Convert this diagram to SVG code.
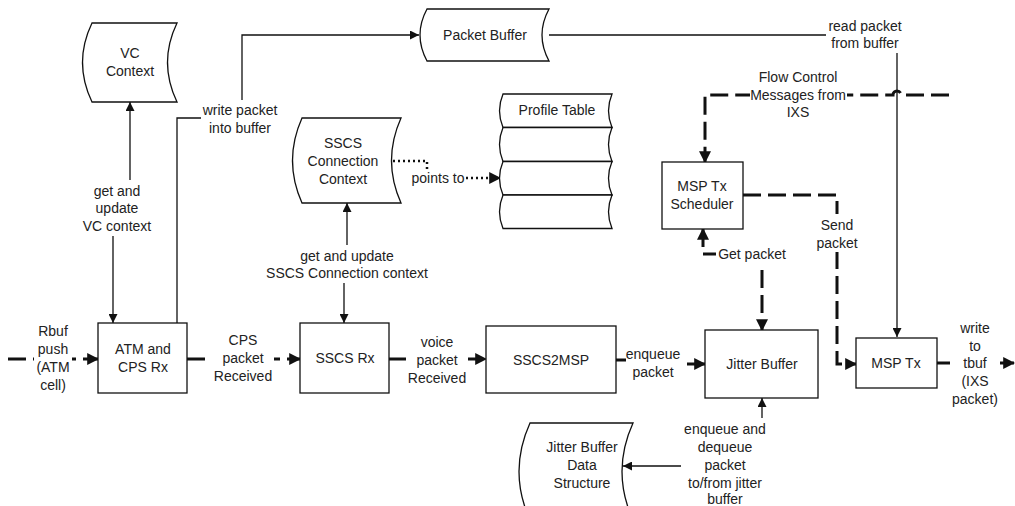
<svg xmlns="http://www.w3.org/2000/svg" width="1015" height="506" viewBox="0 0 1015 506">
  <style>
    .box { fill: #fff; stroke: #111; stroke-width: 1.3; }
    .t { font-family: "Liberation Sans", Arial, sans-serif; font-size: 14px; fill: #222; text-anchor: middle; }
    .thin { fill: none; stroke: #111; stroke-width: 1.3; }
    .thick { fill: none; stroke: #111; stroke-width: 3; stroke-dasharray: 18 7; }
    .dot { fill: none; stroke: #111; stroke-width: 2.5; stroke-dasharray: 2 3; }
    .bg { fill: #fff; }
  </style>
  <defs>
    <marker id="a" viewBox="0 0 10 10" refX="10" refY="5" markerWidth="9" markerHeight="9" markerUnits="userSpaceOnUse" orient="auto-start-reverse">
      <path d="M0,0 L10,5 L0,10 z" fill="#111"/>
    </marker>
    <marker id="A" viewBox="0 0 10 10" refX="9" refY="5" markerWidth="12" markerHeight="12" markerUnits="userSpaceOnUse" orient="auto-start-reverse">
      <path d="M0,0 L10,5 L0,10 z" fill="#111"/>
    </marker>
  </defs>
  <rect width="1015" height="506" fill="#fff"/>

  <!-- connectors -->
  <g id="connectors">
    <!-- thin solid -->
    <path class="thin" d="M113,323 V200 H130 V102" marker-start="url(#a)" marker-end="url(#a)"/>
    <path class="thin" d="M177,323 V118 H242 V35 H419" marker-end="url(#a)"/>
    <path class="thin" d="M549,35 H897 V337" marker-end="url(#a)"/>
    <path class="thin" d="M344,323 V265 H347 V203" marker-start="url(#a)" marker-end="url(#a)"/>
    <path class="thin" d="M762,398 V466 H623" marker-start="url(#a)" marker-end="url(#a)"/>
    <!-- dotted pointer -->
    <path class="dot" d="M393,161 H427 V178 H500" marker-end="url(#A)"/>
    <!-- thick dashed data path -->
    <path class="thick" d="M8,359 H98" marker-end="url(#A)"/>
    <path class="thick" d="M187,359 H300" marker-end="url(#A)"/>
    <path class="thick" d="M389,359 H486" marker-end="url(#A)"/>
    <path class="thick" d="M616,360 H658 V364 H705" marker-end="url(#A)"/>
    <path class="thick" d="M703,229 V254 H762 V330" marker-start="url(#A)" marker-end="url(#A)"/>
    <path class="thick" d="M743,195 H837 V364 H856" marker-end="url(#A)"/>
    <path class="thick" d="M949,95 H901 A4,4 0 0 0 893,95 H705 V162" marker-end="url(#A)"/>
    <path class="thick" d="M937,363 H1014" marker-end="url(#A)"/>
  </g>

  <!-- connector labels -->
  <g id="labels">
    <rect class="bg" x="201" y="100" width="79" height="37"/>
    <text class="t"><tspan x="240" y="115">write packet</tspan><tspan x="240" y="133">into buffer</tspan></text>

    <rect class="bg" x="81" y="180" width="72" height="56"/>
    <text class="t"><tspan x="117" y="196">get and</tspan><tspan x="117" y="213">update</tspan><tspan x="117" y="231">VC context</tspan></text>

    <rect class="bg" x="266" y="245" width="162" height="38"/>
    <text class="t"><tspan x="347" y="261">get and update</tspan><tspan x="347" y="278">SSCS Connection context</tspan></text>

    <rect class="bg" x="410" y="170" width="56" height="17"/>
    <text class="t" x="438" y="183">points to</text>

    <rect class="bg" x="826" y="16" width="78" height="37"/>
    <text class="t"><tspan x="865" y="31">read packet</tspan><tspan x="865" y="48">from buffer</tspan></text>

    <rect class="bg" x="750" y="67" width="97" height="54"/>
    <text class="t"><tspan x="798" y="82">Flow Control</tspan><tspan x="798" y="100">Messages from</tspan><tspan x="798" y="117">IXS</tspan></text>

    <rect class="bg" x="815" y="214" width="44" height="38"/>
    <text class="t"><tspan x="837" y="230">Send</tspan><tspan x="837" y="248">packet</tspan></text>

    <rect class="bg" x="716" y="245" width="72" height="18"/>
    <text class="t" x="752" y="259">Get packet</text>

    <rect class="bg" x="34" y="321" width="38" height="73"/>
    <text class="t"><tspan x="53" y="336">Rbuf</tspan><tspan x="53" y="354">push</tspan><tspan x="53" y="372">(ATM</tspan><tspan x="53" y="390">cell)</tspan></text>

    <rect class="bg" x="212" y="330" width="62" height="56"/>
    <text class="t"><tspan x="243" y="345">CPS</tspan><tspan x="243" y="363">packet</tspan><tspan x="243" y="381">Received</tspan></text>

    <rect class="bg" x="406" y="332" width="62" height="56"/>
    <text class="t"><tspan x="437" y="347">voice</tspan><tspan x="437" y="365">packet</tspan><tspan x="437" y="383">Received</tspan></text>

    <rect class="bg" x="626" y="344" width="54" height="37"/>
    <text class="t"><tspan x="653" y="359">enqueue</tspan><tspan x="653" y="377">packet</tspan></text>

    <rect class="bg" x="681" y="418" width="88" height="88"/>
    <text class="t"><tspan x="725" y="434">enqueue and</tspan><tspan x="725" y="452">dequeue</tspan><tspan x="725" y="470">packet</tspan><tspan x="725" y="488">to/from jitter</tspan><tspan x="725" y="504">buffer</tspan></text>

    <rect class="bg" x="950" y="318" width="50" height="91"/>
    <text class="t"><tspan x="975" y="333">write</tspan><tspan x="975" y="351">to</tspan><tspan x="975" y="368">tbuf</tspan><tspan x="975" y="386">(IXS</tspan><tspan x="975" y="404">packet)</tspan></text>
  </g>

  <!-- stored data nodes -->
  <g id="vc-context">
    <path class="box" d="M92,23 H177 Q158,62.5 177,102 H92 Q73,62.5 92,23 Z"/>
    <text class="t"><tspan x="130" y="58">VC</tspan><tspan x="130" y="76">Context</tspan></text>
  </g>
  <g id="packet-buffer">
    <path class="box" d="M427,9 H549 Q535,35 549,61 H427 Q413,35 427,9 Z"/>
    <text class="t" x="485" y="40">Packet Buffer</text>
  </g>
  <g id="sscs-connection-context">
    <path class="box" d="M302,118 H401 Q382,160.5 401,203 H302 Q283,160.5 302,118 Z"/>
    <text class="t"><tspan x="343" y="148">SSCS</tspan><tspan x="343" y="166">Connection</tspan><tspan x="343" y="184">Context</tspan></text>
  </g>
  <g id="profile-table">
    <path class="box" d="M503,94 H612 Q605,110.7 612,127.5 H503 Q496,110.7 503,94 Z"/>
    <path class="box" d="M503,127.5 H612 Q605,144.5 612,161.5 H503 Q496,144.5 503,127.5 Z"/>
    <path class="box" d="M503,161.5 H612 Q605,178.2 612,195 H503 Q496,178.2 503,161.5 Z"/>
    <path class="box" d="M503,195 H612 Q605,211.7 612,228.5 H503 Q496,211.7 503,195 Z"/>
    <text class="t" x="557" y="115">Profile Table</text>
  </g>
  <g id="jitter-buffer-data-structure">
    <path class="box" d="M530,423 H633 Q611,471.5 633,520 H530 Q508,471.5 530,423 Z"/>
    <text class="t"><tspan x="582" y="452">Jitter Buffer</tspan><tspan x="582" y="470">Data</tspan><tspan x="582" y="488">Structure</tspan></text>
  </g>

  <!-- process nodes -->
  <g id="atm-cps-rx">
    <rect class="box" x="98" y="323" width="89" height="70"/>
    <text class="t"><tspan x="143" y="354">ATM and</tspan><tspan x="143" y="372">CPS Rx</tspan></text>
  </g>
  <g id="sscs-rx">
    <rect class="box" x="300" y="323" width="89" height="70"/>
    <text class="t" x="345" y="363">SSCS Rx</text>
  </g>
  <g id="sscs2msp">
    <rect class="box" x="486" y="326" width="130" height="67"/>
    <text class="t" x="551" y="365">SSCS2MSP</text>
  </g>
  <g id="jitter-buffer">
    <rect class="box" x="705" y="330" width="113" height="68"/>
    <text class="t" x="762" y="369">Jitter Buffer</text>
  </g>
  <g id="msp-tx-scheduler">
    <rect class="box" x="662" y="162" width="81" height="67"/>
    <text class="t"><tspan x="702" y="191">MSP Tx</tspan><tspan x="702" y="209">Scheduler</tspan></text>
  </g>
  <g id="msp-tx">
    <rect class="box" x="856" y="338" width="81" height="50"/>
    <text class="t" x="896" y="368">MSP Tx</text>
  </g>
</svg>
